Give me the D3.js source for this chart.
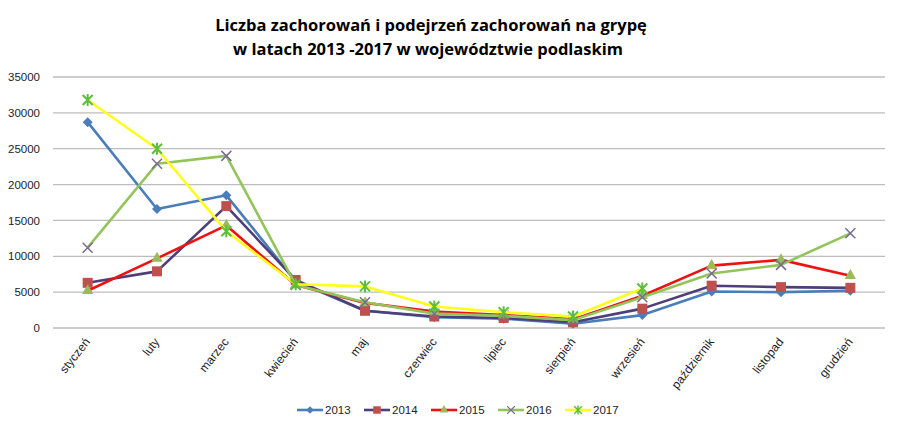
<!DOCTYPE html>
<html>
<head>
<meta charset="UTF-8">
<title>Grypa podlaskie 2013-2017</title>
<script src="https://cdn.jsdelivr.net/npm/d3@7/dist/d3.min.js"></script>
<style>
  body { margin: 0; background: #fff; }
  svg { font-family: "Open Sans", "Liberation Sans", sans-serif; }
</style>
</head>
<body>
<svg id="chart" width="900" height="430"></svg>
<script>
var months = ["styczeń", "luty", "marzec", "kwiecień", "maj", "czerwiec", "lipiec",
              "sierpień", "wrzesień", "październik", "listopad", "grudzień"]
var years = ["2013", "2014", "2015", "2016", "2017"]
var v2013 = [28700, 16600, 18500, 6500, 2400, 1500, 1300, 600, 1800, 5100, 5000, 5200]
var v2014 = [6300, 7900, 17000, 6700, 2400, 1600, 1400, 800, 2700, 5900, 5700, 5600]
var v2015 = [5200, 9700, 14300, 6000, 3500, 2300, 1800, 1200, 4500, 8700, 9500, 7300]
var v2016 = [11200, 22900, 24000, 6000, 3600, 2000, 1700, 1100, 4300, 7600, 8800, 13200]
var v2017 = [31800, 25000, 13500, 6100, 5800, 3000, 2200, 1600, 5500, null, null, null]
var yTicks = [0, 5000, 10000, 15000, 20000, 25000, 30000, 35000]

// line colour, marker colour, marker shape for each year
var styles = [
  { line: "#4a7ebb", mark: "#4a7ebb", shape: "diamond" },
  { line: "#4f3f78", mark: "#c0504d", shape: "square" },
  { line: "#ee1111", mark: "#9bbb59", shape: "triangle" },
  { line: "#92c45a", mark: "#7a6895", shape: "x" },
  { line: "#ffff1a", mark: "#5cbf3c", shape: "star" }
]
var series = [v2013, v2014, v2015, v2016, v2017]

var svg = d3.select("#chart")
var plotLeft = 53, plotRight = 885, plotTop = 77, plotBottom = 328

var x = d3.scaleBand().domain(months).range([plotLeft, plotRight])
var y = d3.scaleLinear().domain([0, 35000]).range([plotBottom, plotTop])

svg.append("text").attr("x", 431).attr("y", 31).attr("text-anchor", "middle")
  .style("font-size", "16.5px").style("font-weight", "bold")
  .text("Liczba zachorowań i podejrzeń zachorowań na grypę")
svg.append("text").attr("x", 428).attr("y", 55).attr("text-anchor", "middle")
  .style("font-size", "16.5px").style("font-weight", "bold")
  .text("w latach 2013 -2017 w województwie podlaskim")

// gridlines
svg.append("g").selectAll("line").data(yTicks).join("line")
  .attr("x1", plotLeft).attr("x2", plotRight)
  .attr("y1", d => y(d)).attr("y2", d => y(d))
  .attr("stroke", "#bdbdbd").attr("stroke-width", 1.3)

var yAxis = svg.append("g").attr("transform", "translate(" + (plotLeft - 10) + ",0)")
  .call(d3.axisLeft(y).tickValues(yTicks).tickSize(0).tickFormat(d3.format("d")))
yAxis.select(".domain").remove()
yAxis.selectAll("text").style("font-size", "11.5px").attr("fill", "#222")
  .attr("font-family", "Liberation Sans, sans-serif")

var xAxis = svg.append("g").attr("transform", "translate(0," + plotBottom + ")")
  .call(d3.axisBottom(x).tickSize(0))
xAxis.select(".domain").remove()
xAxis.selectAll("text")
  .attr("text-anchor", "end").attr("dy", 0).attr("y", 0)
  .attr("transform", "translate(3,14) rotate(-52)")
  .style("font-size", "12px").attr("fill", "#222")
  .attr("font-family", "Liberation Sans, sans-serif")

var cx = d => x(d) + x.bandwidth() / 2

function marker(g, shape, color, s) {
  var r = s / 2 + 1
  if (shape == "diamond") {
    g.append("path").attr("d", "M0," + (-r) + "L" + r + ",0L0," + r + "L" + (-r) + ",0Z").attr("fill", color)
  } else if (shape == "square") {
    g.append("rect").attr("x", -r).attr("y", -r)
      .attr("width", 2 * r).attr("height", 2 * r).attr("fill", color)
  } else if (shape == "triangle") {
    g.append("path").attr("d", d3.symbol(d3.symbolTriangle, s * 7)()).attr("fill", color)
  } else if (shape == "x") {
    g.append("path").attr("d", "M-5,-5L5,5M-5,5L5,-5").attr("stroke", color).attr("stroke-width", 1.5)
  } else {
    g.append("path").attr("d", "M-5,-5L5,5M-5,5L5,-5M0,-6L0,6").attr("stroke", color).attr("stroke-width", 2)
  }
}

var line = d3.line().defined(d => d.v != null).x(d => cx(d.m)).y(d => y(d.v))

series.forEach(function (vals, i) {
  var pts = vals.map((v, j) => ({ m: months[j], v: v }))
  svg.append("path").datum(pts).attr("d", line)
    .attr("fill", "none").attr("stroke", styles[i].line).attr("stroke-width", 2.6)
    .attr("stroke-linejoin", "round")
  pts.filter(d => d.v != null).forEach(function (d) {
    var g = svg.append("g").attr("transform", "translate(" + cx(d.m) + "," + y(d.v) + ")")
    marker(g, styles[i].shape, styles[i].mark, 8)
  })
})

// legend
var lx = [297, 364, 431, 498, 565]
years.forEach(function (yr, i) {
  var g = svg.append("g").attr("transform", "translate(" + lx[i] + ",410)")
  g.append("line").attr("x1", 0).attr("x2", 26).attr("stroke", styles[i].line).attr("stroke-width", 2.6)
  var m = g.append("g").attr("transform", "translate(13,0) scale(0.75)")
  marker(m, styles[i].shape, styles[i].mark, 8)
  g.append("text").attr("x", 28).attr("y", 4).text(yr)
    .style("font-size", "11.5px").attr("fill", "#222")
    .attr("font-family", "Liberation Sans Narrow, Liberation Sans, sans-serif")
})
</script>
</body>
</html>
